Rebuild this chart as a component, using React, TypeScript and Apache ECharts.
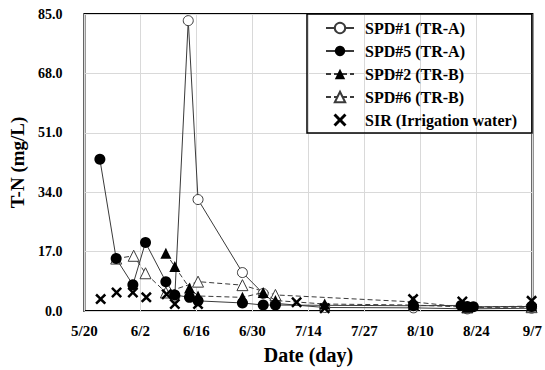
import React, { useEffect, useRef } from "react";
import * as echarts from "echarts";

// Days since 5/20 (x) and T-N in mg/L (y)
const spd1Days = [22.2, 25.5, 27.9, 38.8, 43.9, 46.9, 59.0, 80.8, 94.0, 109.8];
const spd1Vals = [4.2, 83.1, 31.9, 11.0, 5.0, 2.2, 1.0, 0.9, 0.6, 0.8];

const spd5Days = [3.8, 7.8, 11.9, 15.0, 20.0, 22.2, 25.8, 27.9, 38.8, 43.9, 46.9, 80.8, 92.5, 94.0, 95.5, 109.8];
const spd5Vals = [43.4, 15.0, 7.5, 19.6, 8.4, 4.6, 3.9, 2.9, 2.3, 1.7, 1.7, 1.5, 1.6, 1.3, 1.2, 1.3];

const spd2Days = [20.0, 22.2, 25.8, 27.9, 38.8, 43.9, 46.9, 59.0, 80.8, 94.0, 109.8];
const spd2Vals = [16.5, 12.7, 6.6, 4.3, 3.9, 5.3, 3.0, 2.0, 1.7, 1.1, 1.4];

const spd6Days = [7.8, 12.1, 15.0, 20.0, 27.9, 38.8, 46.9, 80.8, 94.0, 109.8];
const spd6Vals = [15.0, 15.8, 10.8, 5.3, 8.4, 7.4, 4.6, 2.6, 1.0, 1.1];

const sirDays = [4.0, 7.9, 11.9, 15.2, 20.2, 22.2, 27.9, 52.1, 59.0, 80.7, 92.8, 109.8];
const sirVals = [3.4, 5.3, 5.3, 3.9, 4.8, 2.0, 2.0, 2.5, 0.8, 3.4, 2.7, 2.9];

const seriesNames = ["SPD#1 (TR-A)", "SPD#5 (TR-A)", "SPD#2 (TR-B)", "SPD#6 (TR-B)", "SIR (Irrigation water)"];
const startMonth = 5;
const startDay = 20;
const xMax = 110;
const xInterval = 13.75;
const yMax = 85;
const yInterval = 17;

const zip = (xs: number[], ys: number[]) => xs.map((x, i) => [x, ys[i]]);

const FONT = "'Liberation Serif', 'Times New Roman', serif";
const X_SYMBOL =
  "path://M0,1.6L1.6,0L5,3.4L8.4,0L10,1.6L6.6,5L10,8.4L8.4,10L5,6.6L1.6,10L0,8.4L3.4,5Z";

function dayLabel(v: number) {
  const d = new Date(2021, startMonth - 1, startDay + Math.floor(v + 1e-6));
  return `${d.getMonth() + 1}/${d.getDate()}`;
}

export default function App() {
  const ref = useRef<HTMLDivElement>(null);
  useEffect(() => {
    if (!ref.current) return;
    const chart = echarts.init(ref.current, undefined, { renderer: "svg" });
    const lineColor = "#3a3a3a";
    chart.setOption({
      animation: false,
      backgroundColor: "#fff",
      textStyle: { fontFamily: FONT },
      grid: {
        left: 80,
        right: 11,
        top: 14,
        bottom: 58,
        show: true,
        borderColor: "#000",
        borderWidth: 2,
      },
      legend: {
        orient: "vertical",
        left: 307,
        top: 14,
        padding: [6, 15, 5, 18],
        itemWidth: 28,
        itemHeight: 13,
        itemGap: 7,
        borderColor: "#000",
        borderWidth: 1.5,
        textStyle: {
          fontFamily: FONT,
          fontWeight: "bold",
          fontSize: 16,
          color: "#000",
          padding: [0, 0, 0, 6],
        },
        data: seriesNames,
      },
      xAxis: {
        type: "value",
        min: 0,
        max: xMax,
        interval: xInterval,
        name: "Date (day)",
        nameLocation: "middle",
        nameGap: 34,
        nameTextStyle: { fontFamily: FONT, fontWeight: "bold", fontSize: 20, color: "#000" },
        axisLine: { show: false },
        axisTick: { show: false },
        axisLabel: {
          formatter: dayLabel,
          fontFamily: FONT,
          fontWeight: "bold",
          fontSize: 15,
          color: "#000",
          margin: 12,
        },
        splitLine: { show: true, lineStyle: { color: "#d9d9d9", width: 1 } },
      },
      yAxis: {
        type: "value",
        min: 0,
        max: yMax,
        interval: yInterval,
        name: "T-N (mg/L)",
        nameLocation: "middle",
        nameGap: 52,
        nameTextStyle: { fontFamily: FONT, fontWeight: "bold", fontSize: 19, color: "#000" },
        axisLine: { show: false },
        axisTick: { show: false },
        axisLabel: {
          formatter: (v: number) => v.toFixed(1),
          fontFamily: FONT,
          fontWeight: "bold",
          fontSize: 14,
          color: "#000",
          margin: 22,
        },
        splitLine: { show: true, lineStyle: { color: "#d9d9d9", width: 1 } },
      },
      series: [
        {
          name: seriesNames[0],
          type: "line",
          data: zip(spd1Days, spd1Vals),
          symbol: "circle",
          symbolSize: 10,
          lineStyle: { color: lineColor, width: 1 },
          itemStyle: { color: "#fff", borderColor: lineColor, borderWidth: 1 },
          z: 3,
        },
        {
          name: seriesNames[1],
          type: "line",
          data: zip(spd5Days, spd5Vals),
          symbol: "circle",
          symbolSize: 11,
          lineStyle: { color: lineColor, width: 1 },
          itemStyle: { color: "#000", borderColor: "#000", borderWidth: 0 },
          z: 4,
        },
        {
          name: seriesNames[2],
          type: "line",
          data: zip(spd2Days, spd2Vals),
          symbol: "triangle",
          symbolSize: 11,
          lineStyle: { color: lineColor, width: 1, type: [5, 3] },
          itemStyle: { color: "#000", borderColor: "#000", borderWidth: 0 },
          z: 4,
        },
        {
          name: seriesNames[3],
          type: "line",
          data: zip(spd6Days, spd6Vals),
          symbol: "triangle",
          symbolSize: 11,
          lineStyle: { color: lineColor, width: 1, type: [5, 3] },
          itemStyle: { color: "#fff", borderColor: lineColor, borderWidth: 1 },
          z: 3,
        },
        {
          name: seriesNames[4],
          type: "scatter",
          data: zip(sirDays, sirVals),
          symbol: X_SYMBOL,
          symbolSize: 11,
          itemStyle: { color: "#000", opacity: 1 },
          z: 5,
        },
      ],
    });
    return () => chart.dispose();
  }, []);
  return (
    <div
      ref={ref}
      style={{ position: "fixed", left: 0, top: 0, width: 545, height: 370, background: "#fff" }}
    />
  );
}
